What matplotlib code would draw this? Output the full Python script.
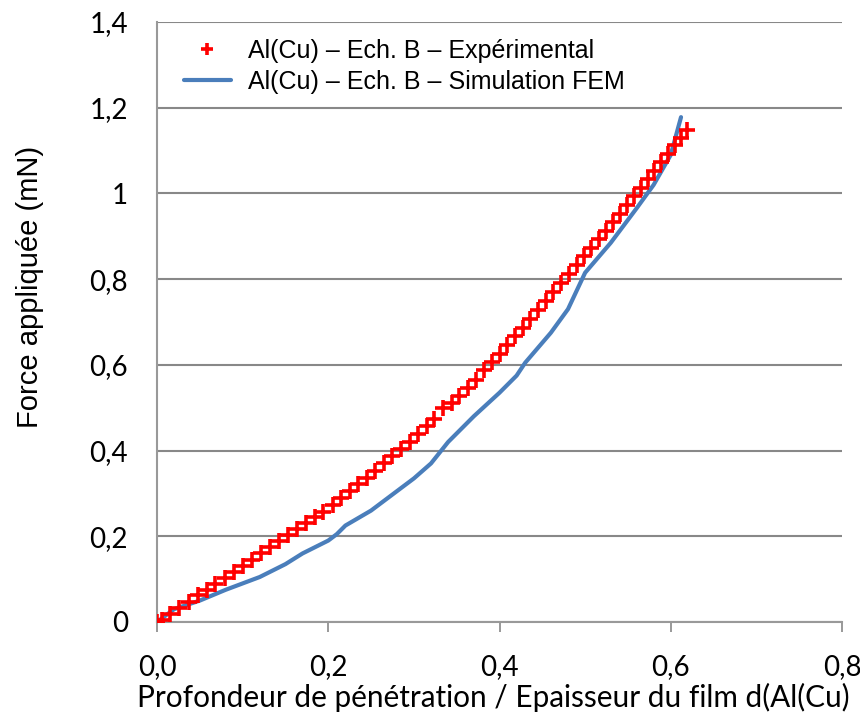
import numpy as np
import matplotlib.pyplot as plt

# experimental points (red +)
exp_x = [0.000, 0.006, 0.015, 0.026, 0.037, 0.048, 0.058, 0.068, 0.079, 0.090,
         0.100, 0.111, 0.122, 0.132, 0.143, 0.153, 0.163, 0.174, 0.184, 0.194,
         0.205, 0.215, 0.225, 0.235, 0.245, 0.255, 0.265, 0.275, 0.285, 0.295,
         0.305, 0.315, 0.324, 0.334, 0.344, 0.353, 0.363, 0.372, 0.382, 0.391,
         0.400, 0.409, 0.418, 0.427, 0.436, 0.445, 0.454, 0.463, 0.472, 0.481,
         0.490, 0.499, 0.507, 0.516, 0.524, 0.533, 0.541, 0.549, 0.557, 0.565,
         0.573, 0.581, 0.589, 0.597, 0.605, 0.612, 0.619]
exp_y = [0.000, 0.005, 0.018, 0.033, 0.047, 0.062, 0.075, 0.088, 0.102, 0.117,
         0.130, 0.145, 0.160, 0.175, 0.190, 0.204, 0.217, 0.231, 0.244, 0.257,
         0.273, 0.289, 0.305, 0.321, 0.337, 0.353, 0.370, 0.387, 0.404, 0.421,
         0.439, 0.457, 0.474, 0.500, 0.510, 0.527, 0.546, 0.565, 0.587, 0.606,
         0.625, 0.646, 0.667, 0.687, 0.708, 0.729, 0.749, 0.770, 0.791, 0.812,
         0.832, 0.853, 0.872, 0.893, 0.913, 0.934, 0.953, 0.973, 0.993, 1.013,
         1.033, 1.053, 1.073, 1.093, 1.112, 1.130, 1.148]

# FEM simulation (blue line)
fem_x = [0, 0.02, 0.05, 0.08, 0.1, 0.12, 0.15, 0.17, 0.2, 0.21, 0.22, 0.25,
         0.27, 0.3, 0.32, 0.34, 0.37, 0.4, 0.42, 0.43, 0.46, 0.48, 0.5, 0.53,
         0.56, 0.58, 0.6, 0.612]
fem_y = [0, 0.03, 0.05, 0.075, 0.09, 0.105, 0.135, 0.16, 0.19, 0.205, 0.225,
         0.26, 0.29, 0.335, 0.37, 0.42, 0.48, 0.535, 0.575, 0.605, 0.675, 0.73,
         0.815, 0.885, 0.965, 1.02, 1.09, 1.178]

xticks = [0, 0.2, 0.4, 0.6, 0.8]
xlabels = ["0,0", "0,2", "0,4", "0,6", "0,8"]
yticks = [0, 0.2, 0.4, 0.6, 0.8, 1.0, 1.2, 1.4]
ylabels = ["0", "0,2", "0,4", "0,6", "0,8", "1", "1,2", "1,4"]

fig = plt.figure(figsize=(8.6, 7.22), dpi=100)
ax = fig.add_axes([157/860, 1-622/722, (842-157)/860, 600/722])

ax.plot(fem_x, fem_y, color='#4A7EBB', lw=3, solid_capstyle='round',
        label="Al(Cu) – Ech. B – Simulation FEM", zorder=3)
ax.plot(exp_x, exp_y, ls='none', marker='+', color='red', ms=11, mew=2.6,
        label="Al(Cu) – Ech. B – Expérimental", zorder=4)

ax.set_xlim(0, 0.8)
ax.set_ylim(0, 1.4)
ax.set_xticks(xticks)
ax.set_xticklabels(xlabels, fontfamily='Lato', fontsize=20)
ax.set_yticks(yticks)
ax.set_yticklabels(ylabels, fontfamily='Lato', fontsize=20)
ax.tick_params(axis='x', length=7, width=1.2, color='#888888', pad=16, direction='out')
ax.tick_params(axis='y', length=0, pad=21)

ax.grid(axis='y', color='#888888', lw=1.5)
ax.set_axisbelow(True)
for s in ['top', 'right']:
    ax.spines[s].set_visible(False)
for s in ['left', 'bottom']:
    ax.spines[s].set_color('#999999')
    ax.spines[s].set_linewidth(1.5)

fig.text(30/860, 1-287/722, "Force appliquée (mN)", fontfamily='Liberation Sans',
         fontsize=21, rotation=90, ha='center', va='center')
fig.text(137/860, 1-697/722, "Profondeur de pénétration / Epaisseur du film d(Al(Cu)",
         fontfamily='Lato', fontsize=21.4, ha='left', va='center')

h, l = ax.get_legend_handles_labels()
leg = ax.legend(h[::-1], l[::-1], loc='upper left', bbox_to_anchor=(0.021, 0.993),
                frameon=False, prop={'family': 'Liberation Sans', 'size': 18},
                handlelength=1.88, handletextpad=0.68, labelspacing=0.3,
                markerscale=0.75, borderpad=0)

fig.savefig("out.png", dpi=100)
